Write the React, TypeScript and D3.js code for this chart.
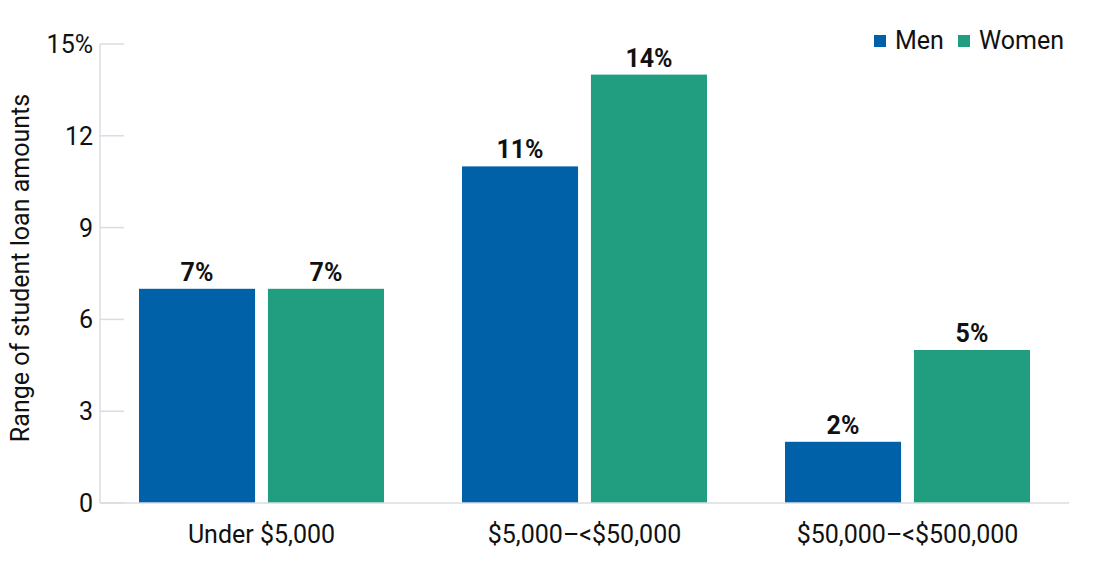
import { useRef, useEffect } from "react";
import * as d3 from "d3";

const categories = ["Under $5,000", "$5,000\u2013<$50,000", "$50,000\u2013<$500,000"];
const series = ["Men", "Women"];
const menValues = [7, 11, 2];
const womenValues = [7, 14, 5];
const yTicks = [0, 3, 6, 9, 12, 15];
const colors = ["#0061a8", "#219e7f"];

const W = 1100;
const H = 583;
const FONT = "Roboto, 'Noto Sans', sans-serif";

export default function App() {
  const svgRef = useRef<SVGSVGElement>(null);

  useEffect(() => {
    if (!svgRef.current) return;
    const margin = { top: 44, right: 31, bottom: 80, left: 100 };
    const innerW = W - margin.left - margin.right;
    const innerH = H - margin.top - margin.bottom;

    const svg = d3.select(svgRef.current);
    svg.selectAll("*").remove();

    const g = svg
      .append("g")
      .attr("transform", `translate(${margin.left},${margin.top})`);

    const x0 = d3.scaleBand().domain(categories).range([0, innerW]).paddingInner(0).paddingOuter(0);
    const x1 = d3
      .scaleBand()
      .domain(series)
      .range([39, x0.bandwidth() - 39])
      .paddingInner(0.1);
    const y = d3.scaleLinear().domain([0, 15]).range([innerH, 0]);

    const axisColor = "#d9dde2";

    // Y axis line + short ticks
    g.append("line")
      .attr("x1", 0)
      .attr("x2", 0)
      .attr("y1", y(15))
      .attr("y2", y(0))
      .attr("stroke", axisColor)
      .attr("stroke-width", 1.5);

    g.append("g")
      .selectAll("line")
      .data(yTicks)
      .join("line")
      .attr("x1", 0)
      .attr("x2", 24)
      .attr("y1", (d) => y(d))
      .attr("y2", (d) => y(d))
      .attr("stroke", axisColor)
      .attr("stroke-width", 1.5);

    g.append("g")
      .selectAll("text")
      .data(yTicks)
      .join("text")
      .attr("x", -7)
      .attr("y", (d) => y(d) + 9)
      .attr("text-anchor", "end")
      .attr("font-family", FONT)
      .attr("font-size", 25)
      .attr("fill", "#111")
      .text((d) => (d === 15 ? "15%" : `${d}`));

    // Bars
    const data = categories.map((c, i) => ({ c, vals: [menValues[i], womenValues[i]] }));
    const groups = g
      .append("g")
      .selectAll("g")
      .data(data)
      .join("g")
      .attr("transform", (d) => `translate(${x0(d.c)},0)`);

    groups
      .selectAll("rect")
      .data((d) => d.vals.map((v, j) => ({ s: series[j], v, j })))
      .join("rect")
      .attr("x", (d) => x1(d.s)!)
      .attr("width", x1.bandwidth())
      .attr("y", (d) => y(d.v))
      .attr("height", (d) => y(0) - y(d.v))
      .attr("fill", (d) => colors[d.j]);

    groups
      .selectAll("text")
      .data((d) => d.vals.map((v, j) => ({ s: series[j], v, j })))
      .join("text")
      .attr("x", (d) => x1(d.s)! + x1.bandwidth() / 2)
      .attr("y", (d) => y(d.v) - 8)
      .attr("text-anchor", "middle")
      .attr("font-family", FONT)
      .attr("font-size", 25)
      .attr("font-weight", "bold")
      .attr("fill", "#111")
      .text((d) => `${d.v}%`);

    // Baseline
    g.append("line")
      .attr("x1", 0)
      .attr("x2", innerW)
      .attr("y1", y(0))
      .attr("y2", y(0))
      .attr("stroke", axisColor)
      .attr("stroke-width", 1.5);

    // X labels
    g.append("g")
      .selectAll("text")
      .data(categories)
      .join("text")
      .attr("x", (d) => x0(d)! + x0.bandwidth() / 2)
      .attr("y", innerH + 40)
      .attr("text-anchor", "middle")
      .attr("font-family", FONT)
      .attr("font-size", 25)
      .attr("fill", "#111")
      .text((d) => d);

    // Y title
    svg
      .append("text")
      .attr("transform", `translate(29,${margin.top + 224}) rotate(-90)`)
      .attr("text-anchor", "middle")
      .attr("font-family", FONT)
      .attr("font-size", 25)
      .attr("fill", "#111")
      .text("Range of student loan amounts");

    // Legend
    const legendPos = [874, 958];
    series.forEach((s, i) => {
      svg
        .append("rect")
        .attr("x", legendPos[i])
        .attr("y", 35)
        .attr("width", 12)
        .attr("height", 12)
        .attr("fill", colors[i]);
      svg
        .append("text")
        .attr("x", legendPos[i] + 21)
        .attr("y", 49)
        .attr("font-family", FONT)
        .attr("font-size", 25)
        .attr("fill", "#111")
        .text(s);
    });
  }, []);

  return (
    <svg
      ref={svgRef}
      width={W}
      height={H}
      style={{ position: "absolute", left: 0, top: 0, background: "#fff" }}
    />
  );
}
